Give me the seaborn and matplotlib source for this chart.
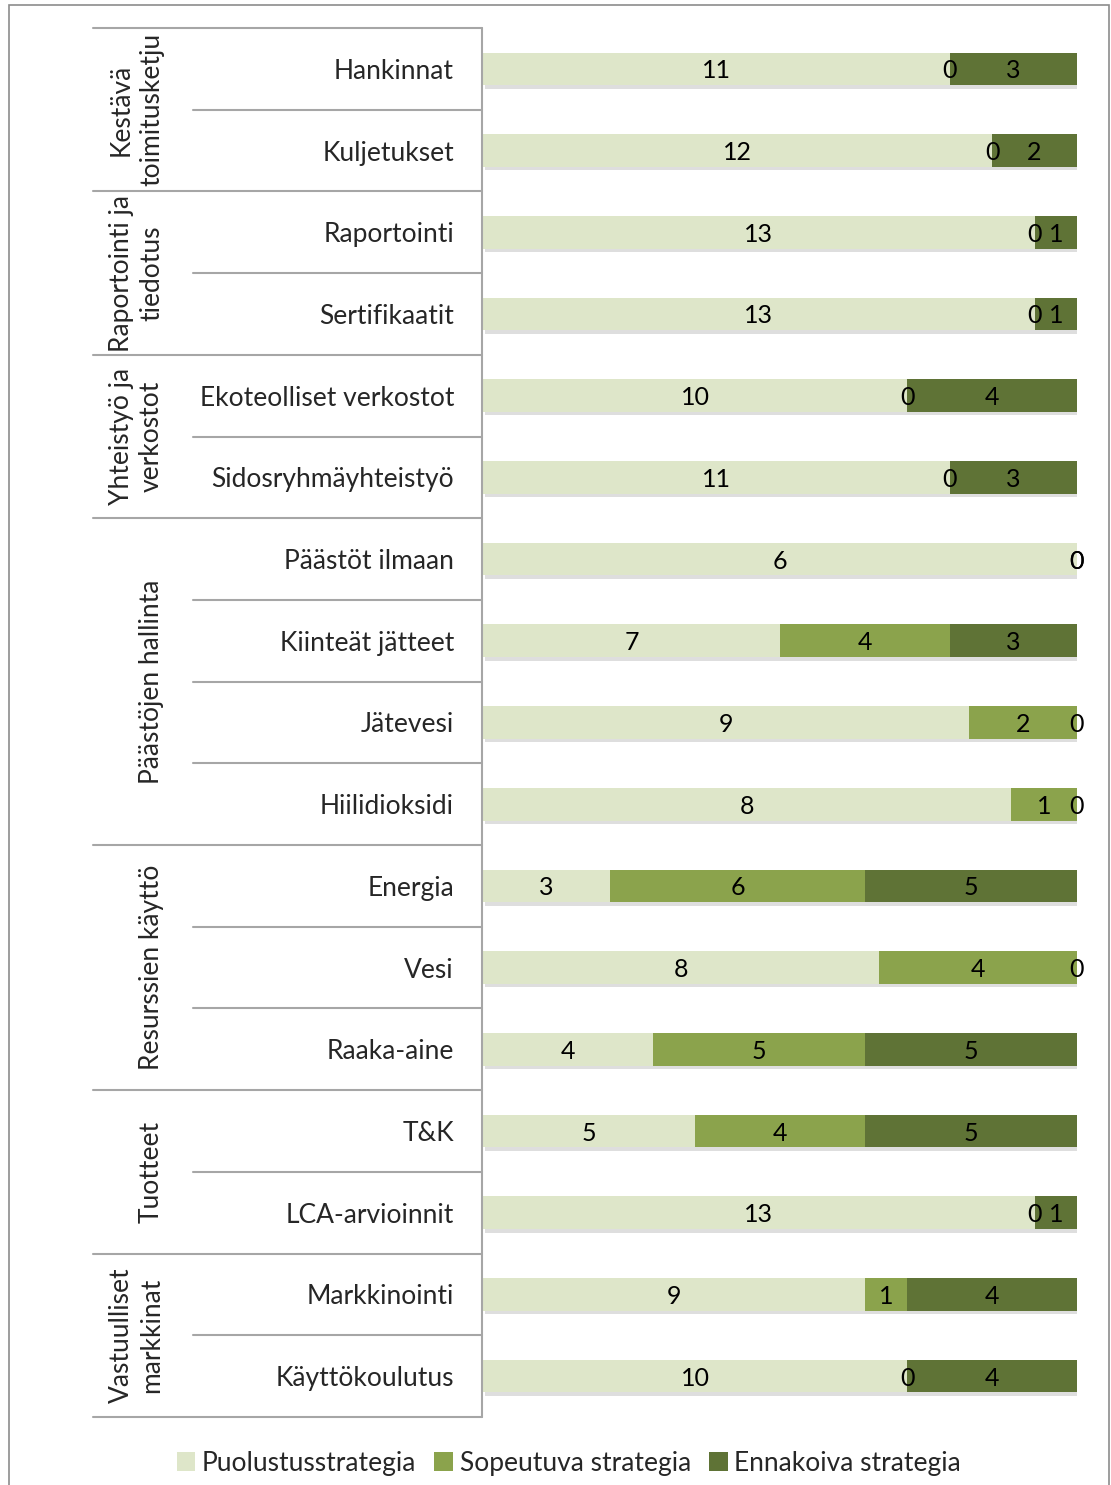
import matplotlib
matplotlib.use("Agg")
import matplotlib.pyplot as plt
import matplotlib.patheffects as pe
from matplotlib.transforms import blended_transform_factory
from matplotlib.patches import Rectangle, Patch
from matplotlib.lines import Line2D
import seaborn as sns
import pandas as pd
import numpy as np

groups = ["Kestävä\ntoimitusketju", "Raportointi ja\ntiedotus", "Yhteistyö ja\nverkostot",
          "Päästöjen hallinta", "Resurssien käyttö", "Tuotteet", "Vastuulliset\nmarkkinat"]
group_sizes = [2, 2, 2, 4, 3, 2, 2]
categories = ["Hankinnat", "Kuljetukset", "Raportointi", "Sertifikaatit",
              "Ekoteolliset verkostot", "Sidosryhmäyhteistyö", "Päästöt ilmaan",
              "Kiinteät jätteet", "Jätevesi", "Hiilidioksidi", "Energia", "Vesi",
              "Raaka-aine", "T&K", "LCA-arvioinnit", "Markkinointi", "Käyttökoulutus"]
puolustus = [11, 12, 13, 13, 10, 11, 6, 7, 9, 8, 3, 8, 4, 5, 13, 9, 10]
sopeutuva = [0, 0, 0, 0, 0, 0, 0, 4, 2, 1, 6, 4, 5, 4, 0, 1, 0]
ennakoiva = [3, 2, 1, 1, 4, 3, 0, 3, 0, 0, 5, 0, 5, 5, 1, 4, 4]
series_names = ["Puolustusstrategia", "Sopeutuva strategia", "Ennakoiva strategia"]
colors = ["#DEE6C9", "#8BA34C", "#5F7336"]

sns.set_theme(style="white")
plt.rcParams["font.family"] = ["Lato", "DejaVu Sans"]

p = np.array(puolustus, float)
s = np.array(sopeutuva, float)
e = np.array(ennakoiva, float)
tot = p + s + e
pp = p / tot * 100
sp = s / tot * 100
ep = e / tot * 100

df = pd.DataFrame({"cat": categories, "c1": pp, "c2": pp + sp, "c3": pp + sp + ep})

W, H = 1111, 1485
fig = plt.figure(figsize=(W / 100, H / 100), dpi=100)
ax = fig.add_axes([483 / W, 1 - 1417 / H, 594 / W, (1417 - 28) / H])

shadow = [pe.SimplePatchShadow(offset=(1.5, -2.5), shadow_rgbFace="#000000", alpha=0.13), pe.Normal()]
sns.barplot(data=df, y="cat", x="c3", color=colors[2], saturation=1, width=0.4, ax=ax,
            orient="h", linewidth=0)
for patch in ax.patches:
    patch.set_path_effects(shadow)
sns.barplot(data=df, y="cat", x="c2", color=colors[1], saturation=1, width=0.4, ax=ax,
            orient="h", linewidth=0)
sns.barplot(data=df, y="cat", x="c1", color=colors[0], saturation=1, width=0.4, ax=ax,
            orient="h", linewidth=0)

ax.set_xlim(0, 100)
ax.set_ylim(len(categories) - 0.5, -0.5)
ax.set_xticks([])
ax.set_yticks([])
ax.set_xlabel("")
ax.set_ylabel("")
for sp_ in ax.spines.values():
    sp_.set_visible(False)

fs = 19
# value labels
for i in range(len(categories)):
    starts = [0, pp[i], pp[i] + sp[i]]
    widths = [pp[i], sp[i], ep[i]]
    vals = [puolustus[i], sopeutuva[i], ennakoiva[i]]
    for st, w, v in zip(starts, widths, vals):
        ax.text(st + w / 2, i, str(v), ha="center", va="center_baseline", fontsize=fs - 1,
                color="black", clip_on=False)

# table
tr = blended_transform_factory(fig.transFigure, ax.transData)
lc = "#A6A6A6"
x0, x1, x2 = 93 / W, 193 / W, 482 / W
n = len(categories)
fig.add_artist(Line2D([x2, x2], [-0.5, n - 0.5], transform=tr, color=lc, lw=1.5))
bounds = np.cumsum([0] + group_sizes)
group_bounds = set(bounds.tolist())
for b in range(n + 1):
    xs = x0 if b in group_bounds else x1
    fig.add_artist(Line2D([xs, x2], [b - 0.5, b - 0.5], transform=tr, color=lc, lw=1.5))
for i, c in enumerate(categories):
    fig.text(454 / W, i, c, transform=tr, ha="right", va="center_baseline", fontsize=fs)
for g, a, b in zip(groups, bounds[:-1], bounds[1:]):
    yc = (a + b - 1) / 2
    fig.text(164 / W, yc, g, transform=tr, ha="right", va="center", rotation=90,
             multialignment="center", fontsize=fs, linespacing=1.25)

# outer border
fig.add_artist(Rectangle((9 / W, -0.05), (1109 - 9) / W, 1.05 - 5 / H, transform=fig.transFigure,
                         fill=False, edgecolor="#8C8C8C", lw=1.2))

handles = [Patch(facecolor=c, edgecolor="none") for c in colors]
fig.legend(handles, series_names, loc="center", bbox_to_anchor=(0.512, 1 - 1463 / H), ncol=3,
           frameon=False, fontsize=fs, handlelength=0.7, handleheight=0.7, handletextpad=0.25,
           columnspacing=0.7)

fig.savefig("out.png", dpi=100)
